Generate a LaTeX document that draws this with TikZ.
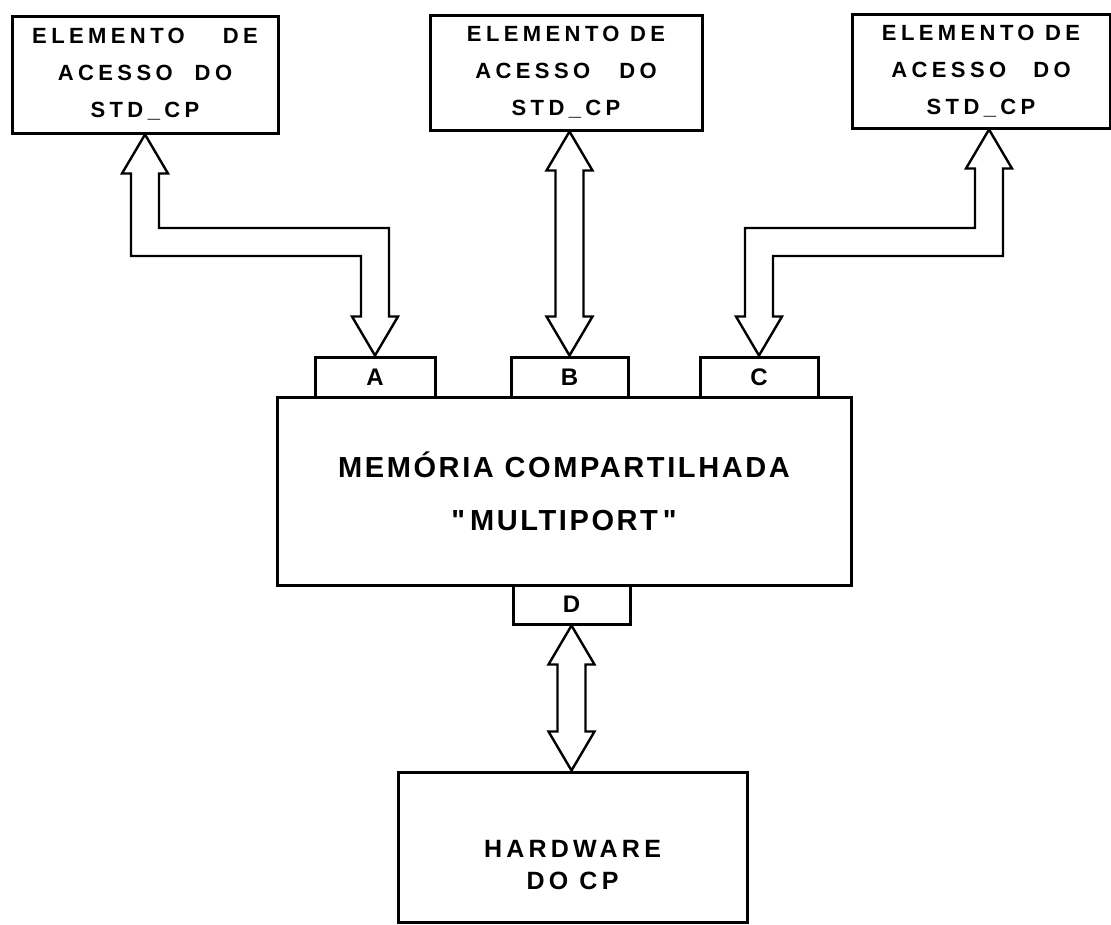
\documentclass[tikz,border=0pt]{standalone}
\usepackage{fontspec}
\setmainfont{Liberation Sans}[Ligatures=TeXOff]
\usetikzlibrary{calc}

\tikzset{
  blk/.style={draw,line width=3pt,inner sep=0pt,align=center},
  elem/.style={blk,font=\fontsize{22}{37}\selectfont\bfseries\addfontfeature{LetterSpace=20}},
  port/.style={blk,minimum height=40pt,font=\fontsize{24}{26}\selectfont\bfseries},
  bus/.style={draw,line width=2.4pt,line join=miter}
}

% fat bus arrow, bent once: top tip, bend point, bottom tip, 1 = turns right / -1 = turns left
\newcommand\bentbus[4]{%
  \draw[bus] (#1) -- ++(23,39) -- ++(-9,0) |- ($(#2)+(14,{-14*#4})$)
    -- ($(#3)+(14,-39)$) -- ++(9,0) -- (#3) -- ++(-23,-39) -- ++(9,0)
    |- ($(#2 -| #1)+(-14,{14*#4})$) -- ($(#1)+(-14,39)$) -- ++(-9,0) -- cycle;}
% fat bus arrow, straight
\newcommand\straightbus[2]{%
  \draw[bus] (#1) -- ++(23,39) -- ++(-9,0) -- ($(#2)+(14,-39)$) -- ++(9,0) -- (#2)
    -- ++(-23,-39) -- ++(9,0) -- ($(#1)+(-14,39)$) -- ++(-9,0) -- cycle;}

\begin{document}
\begin{tikzpicture}[x=1pt,y=-1pt]
  \useasboundingbox (0,0) rectangle (1111,924);

  \path
    (145,74.5) node[elem,minimum width=266pt,minimum height=117pt] (eleA)
      {ELEMENTO\hspace{38pt}DE\\ACESSO\hspace{22pt}DO\\STD\_CP}
    (566,72.5) node[elem,minimum width=272pt,minimum height=115pt] (eleB)
      {ELEMENTO DE\\ACESSO\hspace{29pt}DO\\STD\_CP}
    (981,71) node[elem,minimum width=258pt,minimum height=114pt] (eleC)
      {ELEMENTO DE\\ACESSO\hspace{27pt}DO\\STD\_CP};

  \node[blk,minimum width=574pt,minimum height=188pt,
        font=\fontsize{29}{53}\selectfont\bfseries\addfontfeature{LetterSpace=9}]
    (mem) at (564,491) {MEMÓRIA COMPARTILHADA\\"\hspace{5pt}MULTIPORT\hspace{5pt}"};

  \foreach \p/\x/\w in {A/375/120,B/569.5/117,C/759/118} {
    \node[port,minimum width=\w pt] (port\p) at (\x,377) {\p};
  }
  \node[port,minimum width=117pt,minimum height=39pt] (portD) at (571.5,604.5) {D};

  \node[blk,minimum width=349pt,minimum height=150pt,
        font=\fontsize{25}{32}\selectfont\bfseries\addfontfeature{LetterSpace=17}]
    (hw) at (572.5,847) {\rule{0pt}{54pt}HARDWARE\\DO CP};

  \coordinate (tipC) at ([xshift=8pt]eleC.south);
  \coordinate (bendA) at (portA.north |- 0,242);
  \coordinate (bendC) at (portC.north |- 0,242);

  \bentbus{eleA.south}{bendA}{portA.north}{1}
  \bentbus{tipC}{bendC}{portC.north}{-1}
  \straightbus{eleB.south -| portB.north}{portB.north}
  \straightbus{portD.south}{hw.north -| portD.south}
\end{tikzpicture}
\end{document}
